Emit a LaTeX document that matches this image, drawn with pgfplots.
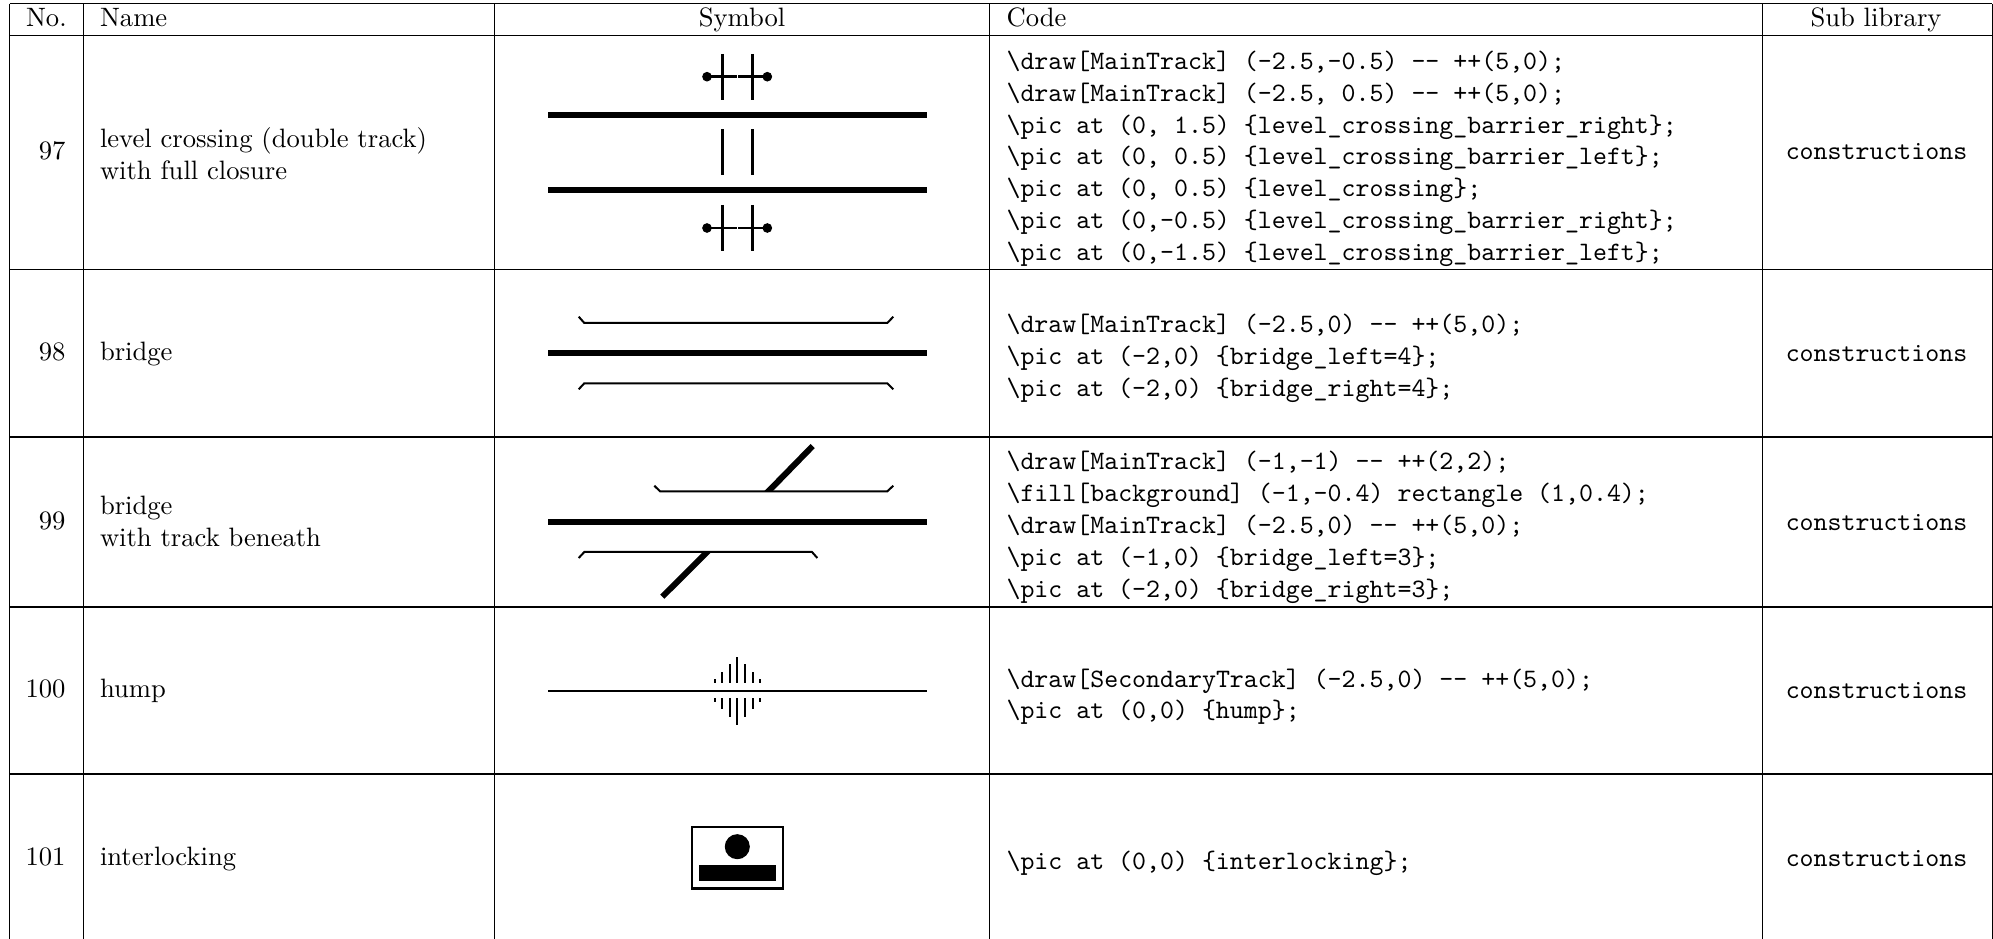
\documentclass[border=0pt]{standalone}
\usepackage{fontspec}
\usepackage{pgfplots}
\pgfplotsset{compat=1.18}
\newcommand\Ln[2]{\addplot[black,line width=#1,no markers] coordinates {#2};}
\newcommand\Grid[1]{\addplot[black,line width=0.4pt,no markers] coordinates {#1};}
\newcommand\Poly[1]{\addplot[fill=black,draw=none,no markers] coordinates {#1} -- cycle;}
\newcommand\TL[3]{\node[anchor=base west,inner sep=0pt] at (axis cs:#1,#2) {#3};}
\newcommand\TC[3]{\node[anchor=base,inner sep=0pt] at (axis cs:#1,#2) {#3};}
\newcommand\TR[3]{\node[anchor=base east,inner sep=0pt] at (axis cs:#1,#2) {#3};}
\newcommand\BS{\textbackslash}
\newcommand\CD[2]{\node[anchor=base west,inner sep=0pt] at (axis cs:1006,#1) {\ttfamily #2};}
\newcommand\Pic[3]{\CD{#1}{\BS pic at #2 \{#3\};}}
\begin{document}
\begin{tikzpicture}[x=1pt,y=1pt]
\useasboundingbox (0,0) rectangle (749.25pt,353pt);
\begin{axis}[at={(0,0)},anchor=south west,scale only axis,width=749.25pt,height=353pt,
  xmin=0,xmax=1993,ymin=0,ymax=939,y dir=reverse,hide axis,clip=false]
% table rules
\Grid{(9.6,3.8) (1992.4,3.8)}
\Grid{(9.6,35.3) (1992.4,35.3)}
\Grid{(9.6,269.3) (1992.4,269.3)}
\Grid{(9.6,437) (1992.4,437)}
\Grid{(9.6,607) (1992.4,607)}
\Grid{(9.6,774) (1992.4,774)}
\Grid{(9.6,3.8) (9.6,939)}
\Grid{(83.2,3.8) (83.2,939)}
\Grid{(494.3,3.8) (494.3,939)}
\Grid{(989.8,3.8) (989.8,939)}
\Grid{(1762.7,3.8) (1762.7,939)}
\Grid{(1992.4,3.8) (1992.4,939)}
% 97
\Ln{2.2pt}{(548.3,114.8) (926.7,114.8)}
\Ln{2.2pt}{(548.3,190) (926.7,190)}
\Ln{0.9pt}{(722.3,54) (722.3,100)}
\Ln{0.9pt}{(752.3,54) (752.3,100)}
\Ln{0.9pt}{(722.3,129.3) (722.3,175)}
\Ln{0.9pt}{(752.3,129.3) (752.3,175)}
\Ln{0.9pt}{(722.3,205) (722.3,251)}
\Ln{0.9pt}{(752.3,205) (752.3,251)}
\Ln{0.95pt}{(707,76.7) (736.7,76.7)}
\Ln{0.95pt}{(738.3,76.7) (767.3,76.7)}
\Ln{0.95pt}{(707,228) (736.7,228)}
\Ln{0.95pt}{(738.3,228) (767.3,228)}
\addplot[only marks,mark=*,mark size=1.6pt,black] coordinates {(707,76.7) (767.3,76.7) (707,228) (767.3,228)};
% 98
\Ln{2.2pt}{(548.3,353) (926.7,353)}
\Ln{0.75pt}{(578.7,316.7) (584.3,323) (887.3,323) (893.3,316.7)}
\Ln{0.75pt}{(578.7,389.3) (584.3,383.3) (887.3,383.3) (893.3,389.3)}
% 99
\Ln{2.2pt}{(548.3,521.7) (926.7,521.7)}
\Ln{0.75pt}{(654.3,485.7) (660,491.3) (887.3,491.3) (893.3,485.7)}
\Ln{0.75pt}{(578.7,558) (584.3,552) (812,552) (817.3,558)}
\Poly{(764.2,491.3) (772.7,491.3) (814.8,448.1) (810.6,443.9)}
\Poly{(703,552) (711.5,552) (664.4,598.8) (660.2,594.6)}
% 100
\Ln{0.75pt}{(548.3,690.7) (926.7,690.7)}
\Ln{0.65pt}{(714.7,683) (714.7,679.3)}
\Ln{0.65pt}{(722.3,683) (722.3,671.7)}
\Ln{0.65pt}{(730,683) (730,664)}
\Ln{0.65pt}{(737.3,683) (737.3,656.7)}
\Ln{0.65pt}{(745,683) (745,664)}
\Ln{0.65pt}{(752.7,683) (752.7,671.7)}
\Ln{0.65pt}{(760,683) (760,679.3)}
\Ln{0.65pt}{(714.7,698.3) (714.7,702)}
\Ln{0.65pt}{(722.3,698.3) (722.3,709.3)}
\Ln{0.65pt}{(730,698.3) (730,717)}
\Ln{0.65pt}{(737.3,698.3) (737.3,724.7)}
\Ln{0.65pt}{(745,698.3) (745,717)}
\Ln{0.65pt}{(752.7,698.3) (752.7,709.3)}
\Ln{0.65pt}{(760,698.3) (760,702)}
% 101
\addplot[black,line width=0.9pt,no markers] coordinates {(691.9,827.2) (783.1,827.2) (783.1,888.5) (691.9,888.5)} -- cycle;
\Poly{(699.3,865) (775.7,865) (775.7,881) (699.3,881)}
\addplot[only marks,mark=*,mark size=4.5pt,black] coordinates {(737.3,846.7)};
% header
\TL{25.5}{26.6}{No.}
\TL{99.5}{26.6}{Name}
\TC{742}{26.6}{Symbol}
\TL{1006}{26.6}{Code}
\TC{1876}{26.6}{Sub library}
% numbers
\TR{66}{159.5}{97}
\TR{66}{360.5}{98}
\TR{66}{530}{99}
\TR{66}{698}{100}
\TR{66}{866}{101}
% names
\TL{99.5}{147.3}{level crossing (double track)}
\TL{99.5}{179.3}{with full closure}
\TL{99.5}{360.5}{bridge}
\TL{99.5}{515}{bridge}
\TL{99.5}{547}{with track beneath}
\TL{99.5}{698}{hump}
\TL{99.5}{866}{interlocking}
% code 97
\CD{69.3}{\BS draw[MainTrack] (-2.5,-0.5) -- ++(5,0);}
\CD{101.2}{\BS draw[MainTrack] (-2.5, 0.5) -- ++(5,0);}
\Pic{133.1}{(0, 1.5)}{level\_crossing\_barrier\_right}
\Pic{165}{(0, 0.5)}{level\_crossing\_barrier\_left}
\Pic{196.9}{(0, 0.5)}{level\_crossing}
\Pic{228.8}{(0,-0.5)}{level\_crossing\_barrier\_right}
\Pic{260.2}{(0,-1.5)}{level\_crossing\_barrier\_left}
% code 98
\CD{332.3}{\BS draw[MainTrack] (-2.5,0) -- ++(5,0);}
\Pic{364.2}{(-2,0)}{bridge\_left=4}
\Pic{396.1}{(-2,0)}{bridge\_right=4}
% code 99
\CD{470}{\BS draw[MainTrack] (-1,-1) -- ++(2,2);}
\CD{501.9}{\BS fill[background] (-1,-0.4) rectangle (1,0.4);}
\CD{533.8}{\BS draw[MainTrack] (-2.5,0) -- ++(5,0);}
\Pic{565.7}{(-1,0)}{bridge\_left=3}
\Pic{597.6}{(-2,0)}{bridge\_right=3}
% code 100
\CD{687.5}{\BS draw[SecondaryTrack] (-2.5,0) -- ++(5,0);}
\Pic{719}{(0,0)}{hump}
% code 101
\Pic{869.5}{(0,0)}{interlocking}
% sub library
\TC{1876.5}{159.2}{\ttfamily constructions}
\TC{1876.5}{361.2}{\ttfamily constructions}
\TC{1876.5}{530.2}{\ttfamily constructions}
\TC{1876.5}{698.2}{\ttfamily constructions}
\TC{1876.5}{866.2}{\ttfamily constructions}
\end{axis}
\end{tikzpicture}
\end{document}
